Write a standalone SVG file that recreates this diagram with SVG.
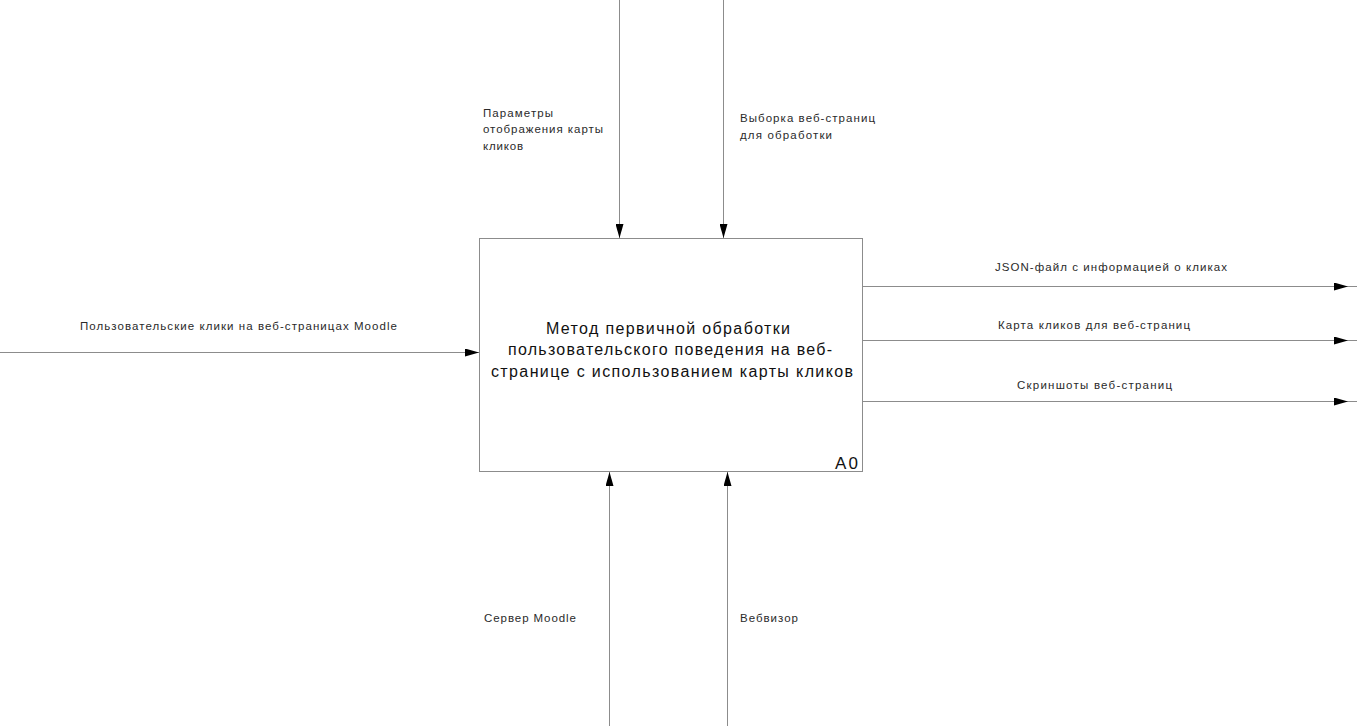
<svg xmlns="http://www.w3.org/2000/svg" width="1357" height="726" viewBox="0 0 1357 726">
  <style>
    .box { fill: #ffffff; stroke: #8c8c8c; stroke-width: 1; }
    .arrow { fill: none; stroke: #8c8c8c; stroke-width: 1; }
    .lbl { font-family: "Liberation Sans", Arial, sans-serif; font-size: 11.5px; fill: #2a2a2a; }
    .title { font-family: "Liberation Sans", Arial, sans-serif; font-size: 16px; fill: #111111; }
    .num { font-family: "Liberation Sans", Arial, sans-serif; font-size: 17px; fill: #111111; }
  </style>
  <defs>
    <marker id="head" viewBox="0 0 14 8" refX="14" refY="4" markerWidth="14" markerHeight="8" markerUnits="userSpaceOnUse" orient="auto">
      <path d="M0,0 L14,4 L0,8 Z" fill="#000000"/>
    </marker>
  </defs>
  <rect width="1357" height="726" fill="#ffffff"/>

  <!-- activity box -->
  <g id="node-A0">
    <rect class="box" x="479.5" y="238.5" width="383" height="233"/>
    <text class="title" x="546" y="334" textLength="244" lengthAdjust="spacing">Метод первичной обработки</text>
    <text class="title" x="508" y="355" textLength="324" lengthAdjust="spacing">пользовательского поведения на веб-</text>
    <text class="title" x="491" y="377" textLength="362" lengthAdjust="spacing">странице с использованием карты кликов</text>
    <text class="num" x="835" y="469" textLength="23" lengthAdjust="spacing">A0</text>
  </g>

  <!-- arrows: inputs, controls, outputs, mechanisms -->
  <g id="connectors">
    <line class="arrow" x1="0" y1="352.5" x2="479" y2="352.5" marker-end="url(#head)"/>
    <line class="arrow" x1="619.5" y1="0" x2="619.5" y2="238" marker-end="url(#head)"/>
    <line class="arrow" x1="723.5" y1="0" x2="723.5" y2="238" marker-end="url(#head)"/>
    <line class="arrow" x1="609.5" y1="726" x2="609.5" y2="472" marker-end="url(#head)"/>
    <line class="arrow" x1="727.5" y1="726" x2="727.5" y2="472" marker-end="url(#head)"/>
    <line class="arrow" x1="863" y1="286.5" x2="1348" y2="286.5" marker-end="url(#head)"/>
    <line class="arrow" x1="863" y1="340.5" x2="1348" y2="340.5" marker-end="url(#head)"/>
    <line class="arrow" x1="863" y1="401.5" x2="1348" y2="401.5" marker-end="url(#head)"/>
    <line class="arrow" x1="1348" y1="286.5" x2="1357" y2="286.5"/>
    <line class="arrow" x1="1348" y1="340.5" x2="1357" y2="340.5"/>
    <line class="arrow" x1="1348" y1="401.5" x2="1357" y2="401.5"/>
  </g>

  <!-- arrow labels -->
  <g id="labels">
    <text class="lbl" x="80" y="330" textLength="317" lengthAdjust="spacing">Пользовательские клики на веб-страницах Moodle</text>
    <text class="lbl" x="483" y="117" textLength="70" lengthAdjust="spacing">Параметры</text>
    <text class="lbl" x="483" y="133" textLength="120" lengthAdjust="spacing">отображения карты</text>
    <text class="lbl" x="483" y="150" textLength="40" lengthAdjust="spacing">кликов</text>
    <text class="lbl" x="740" y="122" textLength="135" lengthAdjust="spacing">Выборка веб-страниц</text>
    <text class="lbl" x="740" y="139" textLength="92" lengthAdjust="spacing">для обработки</text>
    <text class="lbl" x="995" y="271" textLength="232" lengthAdjust="spacing">JSON-файл с информацией о кликах</text>
    <text class="lbl" x="998" y="329" textLength="192" lengthAdjust="spacing">Карта кликов для веб-страниц</text>
    <text class="lbl" x="1017" y="389" textLength="155" lengthAdjust="spacing">Скриншоты веб-страниц</text>
    <text class="lbl" x="484" y="622" textLength="92" lengthAdjust="spacing">Сервер Moodle</text>
    <text class="lbl" x="740" y="622" textLength="58" lengthAdjust="spacing">Вебвизор</text>
  </g>
</svg>
